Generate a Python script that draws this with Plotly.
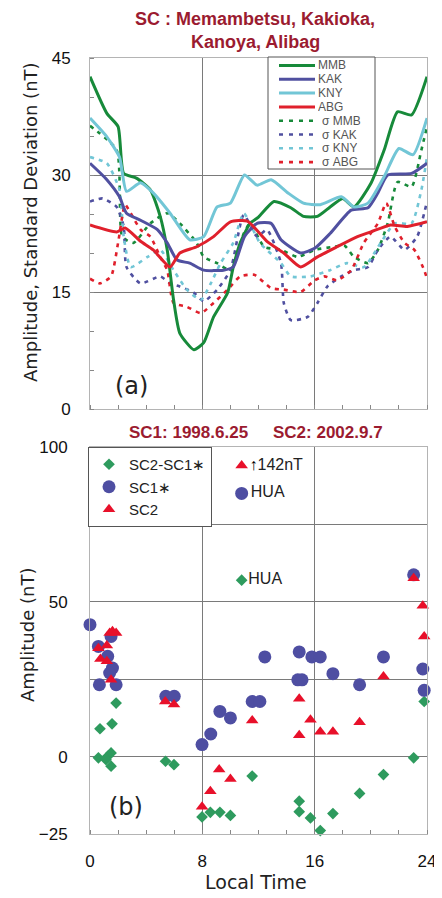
import plotly.graph_objects as go

# The page places the figure 8 px from the top-left corner (default body margin),
# so the figure is sized to fill the remaining 434 x 890 px of the window.
PAGE_W, PAGE_H, OFF = 442, 898, 8
W, H = PAGE_W - OFF, PAGE_H - OFF

# ---------------- data: panel (a) ----------------
lt_mmb = [0, 1.2, 2.0, 2.4, 3.3, 4.3, 5.0, 5.5, 5.95, 6.4, 7.4, 8.1, 8.8, 9.8, 10.2, 10.7, 11.4, 12.0, 13.1, 14.3, 15.2, 16.2, 17.1, 18.0, 18.8, 20.0, 20.95, 21.9, 22.9, 24]
mmb = [42.6, 37.9, 36.2, 30.2, 29.6, 28.1, 24.7, 20.4, 14.0, 9.7, 7.6, 8.5, 11.8, 14.9, 18.2, 21.3, 23.8, 24.6, 26.6, 25.8, 24.7, 24.7, 25.9, 27.0, 25.9, 28.9, 33.2, 38.1, 37.7, 42.6]

lt_kak = [0, 1.2, 2.1, 2.6, 3.6, 4.8, 5.5, 6.2, 7.1, 8.1, 9.5, 10.2, 11.0, 11.9, 12.9, 13.6, 15.0, 16.0, 17.1, 18.6, 19.8, 20.5, 21.2, 22.9, 24]
kak = [31.5, 29.4, 27.2, 25.1, 24.2, 23.0, 21.3, 19.1, 18.7, 17.8, 17.8, 18.2, 22.1, 23.8, 23.8, 21.7, 20.0, 20.6, 22.5, 25.5, 25.8, 27.7, 30.0, 30.2, 31.5]

lt_kny = [0, 1.2, 2.1, 2.6, 3.6, 4.5, 5.7, 7.1, 8.1, 9.05, 10.0, 11.0, 11.9, 12.9, 14.1, 15.2, 16.4, 17.9, 18.8, 19.8, 20.95, 22.0, 23.0, 24]
kny = [37.3, 34.9, 32.3, 27.9, 29.0, 27.7, 25.1, 21.7, 22.1, 25.9, 26.4, 30.0, 28.7, 29.4, 27.7, 26.4, 26.2, 27.2, 25.9, 26.4, 29.8, 33.4, 32.6, 37.3]

lt_abg = [0, 1.9, 2.5, 3.6, 4.5, 5.7, 6.4, 7.6, 8.8, 10.0, 11.2, 12.6, 13.8, 15.0, 16.2, 17.6, 19.05, 20.0, 21.4, 22.6, 24]
abg = [23.6, 22.7, 23.2, 21.5, 20.4, 18.2, 20.0, 20.8, 22.1, 24.0, 24.1, 21.5, 20.0, 18.2, 19.5, 20.8, 22.1, 22.7, 23.6, 23.4, 24.0]

lt_s_mmb = [0, 1.9, 2.3, 3.1, 4.3, 5.5, 6.4, 7.6, 8.1, 9.05, 10.0, 10.95, 11.4, 12.4, 13.6, 14.8, 16.0, 17.4, 18.1, 18.8, 19.8, 20.5, 21.2, 21.9, 22.9, 23.6, 24]
s_mmb = [36.3, 33.2, 22.1, 21.3, 23.8, 25.1, 23.8, 21.3, 19.5, 18.7, 17.8, 22.5, 23.8, 20.8, 20.4, 19.5, 20.4, 20.8, 21.0, 19.5, 18.7, 20.4, 23.8, 29.1, 28.5, 33.2, 36.2]

lt_s_kak = [0, 0.9, 1.9, 2.4, 2.6, 3.6, 5.0, 5.7, 6.4, 7.4, 8.1, 9.05, 10.0, 10.95, 11.9, 12.6, 13.6, 13.8, 14.3, 15.5, 16.2, 16.9, 17.9, 18.8, 19.8, 20.5, 21.4, 22.4, 23.3, 24]
s_kak = [26.6, 27.0, 25.9, 23.4, 18.2, 16.1, 17.0, 16.1, 15.7, 14.9, 13.8, 15.3, 17.8, 24.9, 22.1, 23.0, 18.7, 13.6, 11.4, 11.8, 13.6, 15.7, 17.0, 17.8, 18.2, 20.4, 22.1, 20.4, 22.1, 26.6]

lt_s_kny = [0, 1.2, 2.1, 2.4, 2.9, 4.1, 5.0, 5.95, 6.9, 7.9, 8.6, 9.3, 10.2, 10.95, 12.1, 13.6, 14.3, 15.7, 17.1, 18.3, 19.5, 20.7, 21.7, 22.9, 23.6, 24]
s_kny = [32.3, 31.5, 28.1, 22.1, 18.2, 19.5, 20.4, 17.8, 15.3, 14.0, 16.1, 18.7, 21.3, 25.1, 21.3, 18.7, 17.0, 17.0, 17.8, 18.7, 18.2, 21.3, 23.8, 23.8, 28.1, 32.3]

lt_s_abg = [0, 0.7, 1.5, 2.0, 2.5, 2.9, 3.6, 4.3, 5.0, 5.5, 5.95, 6.9, 7.9, 8.8, 9.8, 10.7, 11.7, 12.9, 13.8, 15.0, 16.0, 16.7, 17.6, 18.6, 19.5, 20.5, 21.1, 21.7, 22.4, 23.1, 23.8, 24]
s_abg = [16.7, 16.1, 17.0, 21.3, 26.2, 25.1, 23.0, 22.1, 19.5, 17.8, 13.6, 13.1, 12.3, 13.6, 15.3, 17.0, 17.2, 15.5, 15.3, 15.0, 16.5, 17.0, 16.5, 17.8, 21.3, 23.8, 26.4, 23.4, 21.3, 20.4, 17.8, 16.7]

# ---------------- data: panel (b) ----------------
sc1_lt = [0.0, 0.6, 1.26, 1.5, 1.6, 1.4, 0.67, 1.86, 5.4, 6.0, 7.98, 8.6, 9.25, 10.0, 11.55, 12.1, 12.45, 14.9, 14.8, 15.1, 15.8, 16.4, 17.3, 19.2, 20.9, 23.05, 23.7, 23.8]
sc1 = [42.6, 35.6, 32.4, 38.8, 28.6, 27.0, 23.2, 23.2, 19.5, 19.5, 3.9, 7.3, 14.6, 12.5, 17.8, 17.8, 32.2, 33.8, 24.8, 24.8, 32.2, 32.2, 26.8, 23.2, 32.2, 58.7, 28.3, 21.4]

sc2_lt = [1.4, 1.6, 1.86, 0.6, 1.2, 0.74, 1.2, 1.5, 5.36, 5.98, 7.98, 8.57, 9.2, 10.0, 11.55, 14.9, 14.9, 15.7, 16.4, 17.3, 19.2, 20.9, 23.05, 23.7, 23.8]
sc2 = [39.9, 40.5, 39.9, 35.0, 35.9, 31.5, 30.8, 24.8, 17.8, 16.8, -16.2, -11.2, -4.2, -7.2, 11.7, 18.7, 6.9, 11.9, 8.0, 8.0, 11.1, 25.9, 57.6, 48.7, 38.8]

diff_lt = [1.86, 0.71, 1.57, 0.6, 1.26, 1.5, 1.14, 1.5, 5.38, 5.98, 7.98, 8.57, 9.25, 10.0, 11.55, 14.9, 14.9, 15.7, 16.4, 17.3, 19.2, 20.9, 23.05, 23.8]
diff = [17.3, 9.0, 10.6, -0.4, 0.1, 1.2, -1.0, -3.1, -1.5, -2.6, -19.5, -18.0, -18.0, -19.0, -6.3, -14.4, -17.8, -19.8, -23.9, -18.4, -11.9, -5.8, -0.4, 17.8]

# Huancayo (HUA) point: SC2 = 142 nT is off scale, drawn near the top
hua_lt = [10.8]
hua_sc1 = [85]
hua_sc2_shown = [94]
hua_sc2_actual = 142
hua_diff = [57]

x_ticks = [0, 8, 16, 24]
ya_ticks = [0, 15, 30, 45]
yb_ticks = [-25, 0, 25, 50, 75, 100]
yb_ticktext = ["\u221225", "0", "", "50", "", "100"]

# ---------------- style ----------------
FONT = "Liberation Sans"
WIDE = "DejaVu Sans"
C_MMB, C_KAK, C_KNY, C_ABG = "#178A3A", "#5050A0", "#72C6D6", "#E0202C"
C_BLUE, C_RED, C_GREEN = "#4E4EA2", "#E8102A", "#2E9B5E"
TITLE_RED = "#9B1B30"
GRID = "#7A7A7A"
FRAME = "#B4B4B4"


def px(x, y):
    """window pixel -> paper fraction"""
    return (x - OFF) / W, 1 - (y - OFF) / H


fig = go.Figure()

series_a = [
    ("MMB", lt_mmb, mmb, C_MMB, "solid"),
    ("KAK", lt_kak, kak, C_KAK, "solid"),
    ("KNY", lt_kny, kny, C_KNY, "solid"),
    ("ABG", lt_abg, abg, C_ABG, "solid"),
    ("\u03c3 MMB", lt_s_mmb, s_mmb, C_MMB, "4px,5px"),
    ("\u03c3 KAK", lt_s_kak, s_kak, C_KAK, "4px,5px"),
    ("\u03c3 KNY", lt_s_kny, s_kny, C_KNY, "4px,5px"),
    ("\u03c3 ABG", lt_s_abg, s_abg, C_ABG, "4px,5px"),
]
# draw dashed first, solid on top
for name, xs, ys, col, dash in series_a[4:] + series_a[:4]:
    fig.add_trace(go.Scatter(
        x=xs, y=ys, name=name, mode="lines", xaxis="x", yaxis="y",
        line=dict(color=col, width=3 if dash == "solid" else 2.6, dash=dash,
                  shape="spline", smoothing=0.55),
        showlegend=False, hoverinfo="skip"))

# panel (b)
fig.add_trace(go.Scatter(x=diff_lt, y=diff, name="SC2-SC1\u2217", mode="markers",
                         xaxis="x2", yaxis="y2", legend="legend2", cliponaxis=False,
                         marker=dict(symbol="diamond", size=9, color=C_GREEN)))
fig.add_trace(go.Scatter(x=sc1_lt, y=sc1, name="SC1\u2217", mode="markers",
                         xaxis="x2", yaxis="y2", legend="legend2", cliponaxis=False,
                         marker=dict(symbol="circle", size=13, color=C_BLUE)))
fig.add_trace(go.Scatter(x=sc2_lt, y=sc2, name="SC2", mode="markers",
                         xaxis="x2", yaxis="y2", legend="legend2", cliponaxis=False,
                         marker=dict(symbol="triangle-up", size=11, color=C_RED)))

# HUA points with labels
fig.add_trace(go.Scatter(x=hua_lt, y=hua_diff, mode="markers+text", text=["HUA"],
                         textposition="middle right", xaxis="x2", yaxis="y2",
                         textfont=dict(family=FONT, size=16, color="#222"),
                         marker=dict(symbol="diamond", size=9, color=C_GREEN),
                         showlegend=False))
fig.add_trace(go.Scatter(x=hua_lt, y=hua_sc1, mode="markers+text", text=["HUA"],
                         textposition="middle right", xaxis="x2", yaxis="y2",
                         textfont=dict(family=FONT, size=16, color="#222"),
                         marker=dict(symbol="circle", size=13, color=C_BLUE),
                         showlegend=False))
fig.add_trace(go.Scatter(x=hua_lt, y=hua_sc2_shown, mode="markers+text",
                         text=["<span style='color:black'>\u2191</span>%dnT" % hua_sc2_actual],
                         textposition="middle right", xaxis="x2", yaxis="y2",
                         textfont=dict(family=FONT, size=16, color="#222"),
                         marker=dict(symbol="triangle-up", size=11, color=C_RED),
                         showlegend=False))

x0, _ = px(90, 0)
x1, _ = px(427, 0)
_, ya_top = px(0, 58)
_, ya_bot = px(0, 409)
_, yb_top = px(0, 447)
_, yb_bot = px(0, 834)

axis_common = dict(showline=True, linecolor=FRAME, linewidth=1, mirror=True,
                   showgrid=True, gridcolor=GRID, gridwidth=1, zeroline=False,
                   automargin=False,
                   ticks="", tickfont=dict(family=FONT, size=17, color="#111"))

fig.update_layout(
    template="none",
    width=W, height=H, margin=dict(l=0, r=0, t=0, b=0, pad=0, autoexpand=False),
    paper_bgcolor="white", plot_bgcolor="white",
    xaxis=dict(domain=[x0, x1], anchor="y", range=[0, 24], tickmode="array",
               tickvals=x_ticks, showticklabels=False,
               minor=dict(tickmode="linear", tick0=0, dtick=2, ticks="inside",
                          ticklen=4, tickcolor="#888", showgrid=False),
               **axis_common),
    yaxis=dict(domain=[ya_bot, ya_top], anchor="x", range=[0, 45], tickmode="array",
               tickvals=ya_ticks, ticklabelstandoff=15,
               minor=dict(tickmode="linear", tick0=0, dtick=5, ticks="inside",
                          ticklen=4, tickcolor="#888", showgrid=False),
               **axis_common),
    xaxis2=dict(domain=[x0, x1], anchor="y2", range=[0, 24], tickmode="array",
                tickvals=x_ticks, ticklabelstandoff=12,
                minor=dict(tickmode="linear", tick0=0, dtick=2, ticks="inside",
                           ticklen=4, tickcolor="#888", showgrid=False),
                **axis_common),
    yaxis2=dict(domain=[yb_bot, yb_top], anchor="x2", range=[-25, 100], tickmode="array",
                tickvals=yb_ticks, ticktext=yb_ticktext, ticklabelstandoff=18,
                **axis_common),
    legend2=dict(x=px(88, 0)[0], y=px(0, 447)[1], xanchor="left", yanchor="top",
                 bgcolor="white", bordercolor="#555", borderwidth=1,
                 font=dict(family=FONT, size=15, color="#222"),
                 itemsizing="trace", tracegroupgap=0),
    showlegend=True,
)

shapes = []
annotations = []

# manual legend for panel (a)
lx0, ly0 = px(268, 57)
lx1, ly1 = px(375, 169)
shapes.append(dict(type="rect", xref="paper", yref="paper", x0=lx0, y0=ly1, x1=lx1, y1=ly0,
                   line=dict(color="#555", width=1), fillcolor="white", layer="above"))
for i, (name, xs, ys, col, dash) in enumerate(series_a):
    yy = 65.5 + i * 13.8
    ax0, ay = px(279, yy)
    ax1, _ = px(315, yy)
    shapes.append(dict(type="line", xref="paper", yref="paper", x0=ax0, x1=ax1, y0=ay, y1=ay,
                       line=dict(color=col, width=3 if dash == "solid" else 2.6,
                                 dash="solid" if dash == "solid" else "4px,6px"),
                       layer="above"))
    tx, _ = px(317 if dash == "solid" else 321, yy)
    annotations.append(dict(xref="paper", yref="paper", x=tx, y=ay, text=name,
                            xanchor="left", yanchor="middle", showarrow=False,
                            height=12, borderpad=0,
                            font=dict(family=FONT, size=12, color="#555")))


def ann(x, y, text, size, color="#111", bold=False, angle=0, family=FONT):
    ax, ay = px(x, y)
    annotations.append(dict(xref="paper", yref="paper", x=ax, y=ay,
                            text="<b>%s</b>" % text if bold else text,
                            xanchor="center", yanchor="middle", showarrow=False,
                            textangle=angle,
                            font=dict(family=family, size=size, color=color)))


ann(255, 19, "SC : Memambetsu, Kakioka,", 18, TITLE_RED, bold=True)
ann(255, 42, "Kanoya, Alibag", 18, TITLE_RED, bold=True)
ann(188, 433, "SC1: 1998.6.25", 17, TITLE_RED, bold=True)
ann(328, 433, "SC2: 2002.9.7", 17, TITLE_RED, bold=True)
ann(30, 222, "Amplitude, Standard Deviation (nT)", 18, "#222", angle=-90, family=WIDE)
ann(27, 635, "Amplitude (nT)", 18, "#222", angle=-90, family=WIDE)
ann(256, 882, "Local Time", 19, "#222", family=WIDE)
ann(131, 386, "(a)", 24, "#222", family=WIDE)
ann(126, 807, "(b)", 24, "#222", family=WIDE)

fig.update_layout(shapes=shapes, annotations=annotations)

fig.write_html("out.html")
